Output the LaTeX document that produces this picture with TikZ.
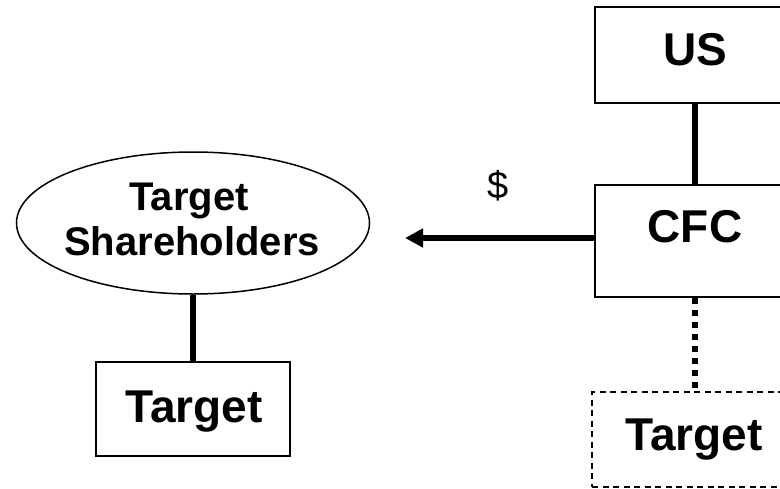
\documentclass[tikz,border=0pt]{standalone}
\usepackage{fontspec}
\setmainfont{Liberation Sans}
\usetikzlibrary{shapes.geometric,arrows.meta}
\begin{document}
\begin{tikzpicture}[x=1pt,y=-1pt,
  box/.style={draw,line width=2pt,rectangle,inner sep=0pt},
  dashbox/.style={draw,line width=1.5pt,rectangle,inner sep=0pt,dash pattern=on 6pt off 4.5pt},
  oval/.style={draw,line width=1.5pt,ellipse,inner sep=0pt},
  boxlabel/.style={anchor=base,inner sep=0pt,font=\bfseries\fontsize{46}{50}\selectfont},
  ovallabel/.style={anchor=base,inner sep=0pt,font=\bfseries\fontsize{40}{44}\selectfont},
  cashlabel/.style={anchor=base,inner sep=0pt,font=\fontsize{38}{42}\selectfont},
  link/.style={line width=5.5pt},
  dotlink/.style={line width=5.5pt,dash pattern=on 5.5pt off 6.5pt},
]
\clip (0,0) rectangle (780,488);

% right-hand chain: US parent, CFC, prospective target
\node[box, minimum width=200pt, minimum height=96pt] (us) at (695,55) {};
\node[boxlabel] (usT) at (695,65) {US};
\node[box, minimum width=200pt, minimum height=112pt] (cfc) at (695,241) {};
\node[boxlabel] (cfcT) at (695,242) {CFC};
\node[dashbox, minimum width=206pt, minimum height=95pt] (tgtR) at (695,439.5) {};
\node[boxlabel] (tgtRT) at (694,450) {Target};

% left-hand side: shareholders and their company
\node[oval, minimum width=353pt, minimum height=142pt] (ts) at (193,223) {};
\node[ovallabel] (tsA) at (189,210) {Target};
\node[ovallabel] (tsB) at (192,255) {Shareholders};
\node[box, minimum width=194pt, minimum height=94pt] (tgtL) at (193,409) {};
\node[boxlabel] (tgtLT) at (194,422) {Target};

% ownership lines
\draw[link] (us) -- (cfc);
\draw[dotlink] (cfc) -- (tgtR);
\draw[link] (ts) -- (tgtL);

% cash payment to the shareholders
\coordinate (tip) at (405,238);
\draw[link,-{Triangle[length=18pt,width=18pt]}] (cfc.west |- tip) -- (tip);
\node[cashlabel] (cash) at (498,198) {\$};
\end{tikzpicture}
\end{document}
